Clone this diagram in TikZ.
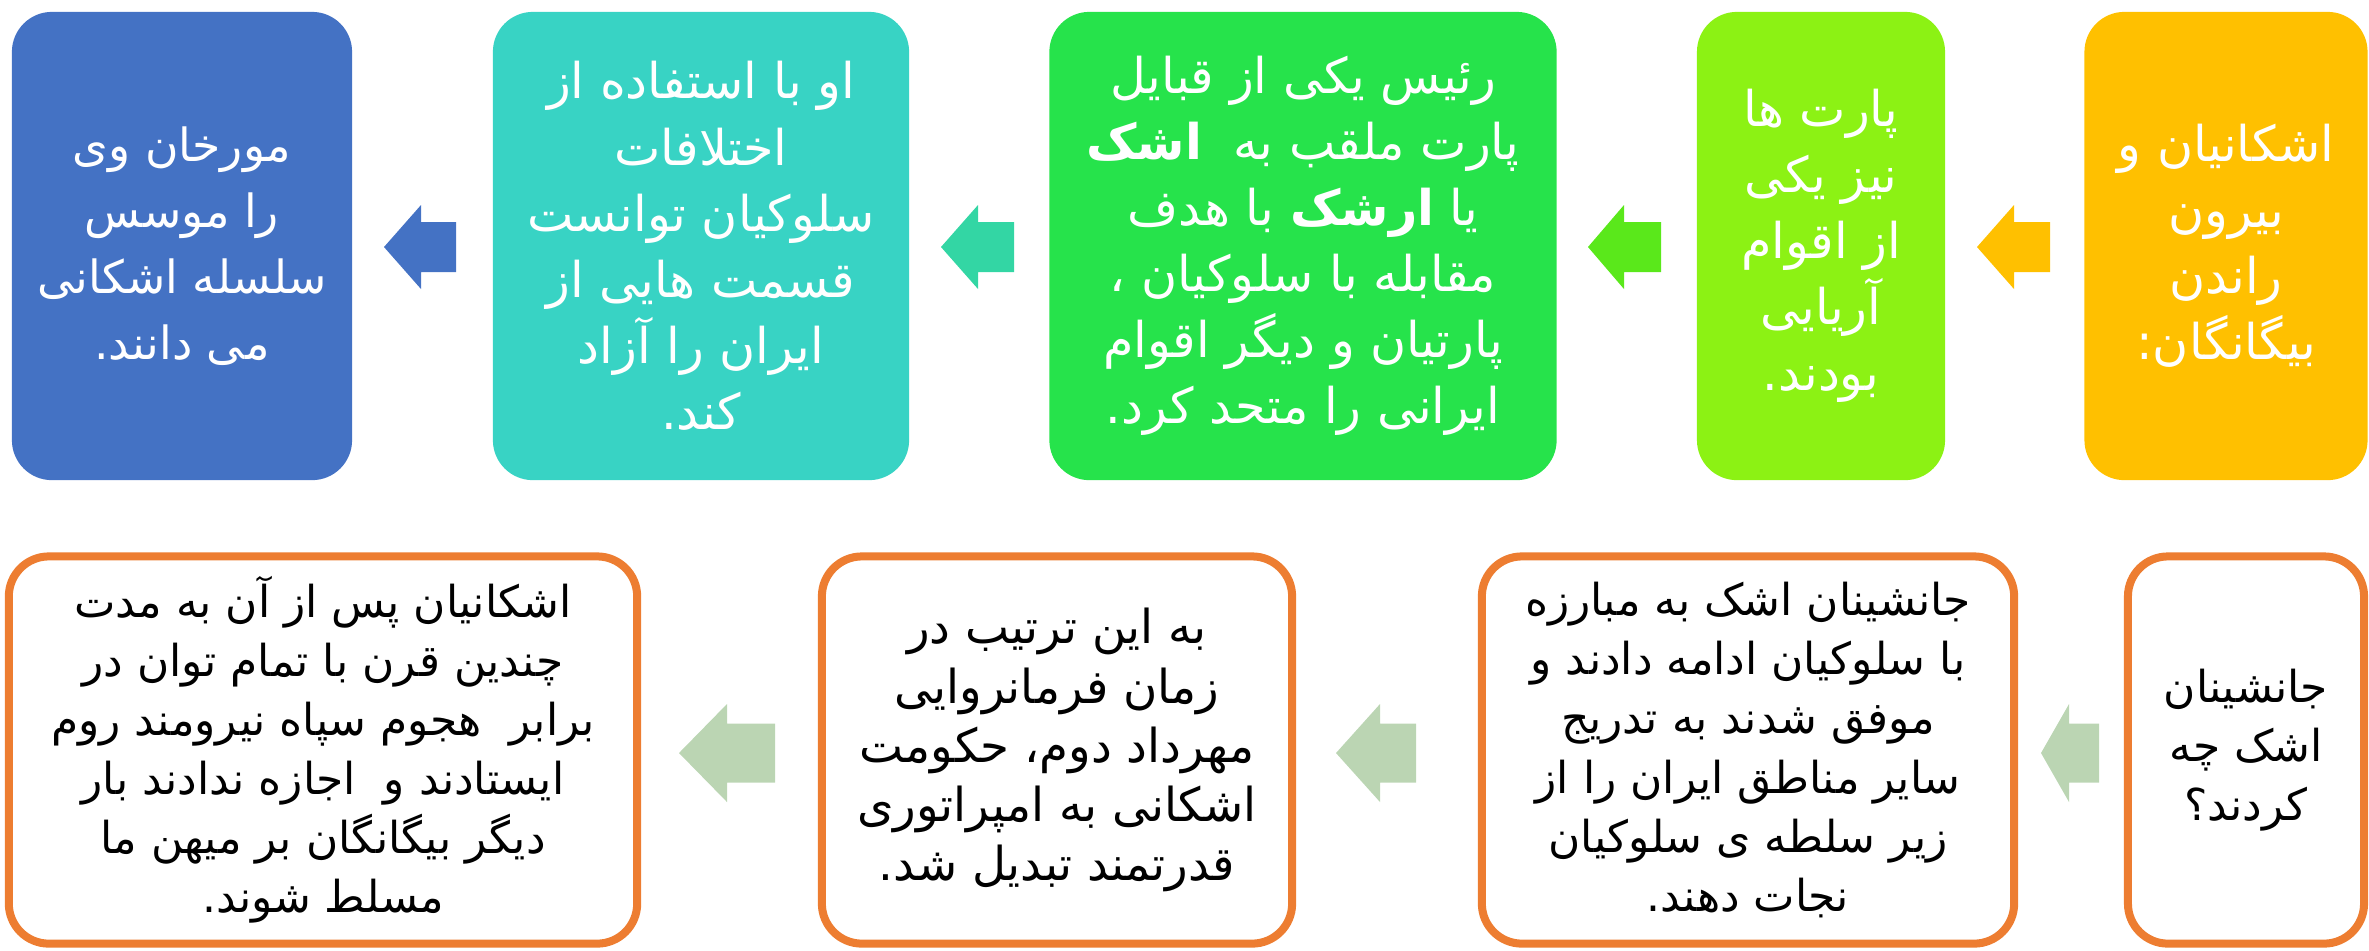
\documentclass[tikz,border=0pt]{standalone}
\usepackage{fontspec}
\newfontfamily\arabicfont[Script=Arabic]{DejaVu Sans}
\TeXXeTstate=1
\newcommand{\rl}[1]{\beginR#1\endR}
\definecolor{boxblue}{RGB}{68,114,196}
\definecolor{boxteal}{RGB}{56,211,196}
\definecolor{arrteal}{RGB}{51,214,164}
\definecolor{boxgreen}{RGB}{38,227,75}
\definecolor{arrgreen}{RGB}{90,232,27}
\definecolor{boxlime}{RGB}{140,242,20}
\definecolor{boxyellow}{RGB}{255,192,0}
\definecolor{arrsage}{RGB}{187,213,179}
\definecolor{lineorange}{RGB}{237,125,49}

\begin{document}
\begin{tikzpicture}[x=0.01cm,y=-0.01cm,
  topbox/.style={rounded corners=0.4cm, text=white, align=center, inner sep=0pt,
    minimum height=4.68cm, font=\arabicfont\fontsize{14}{18.8}\selectfont},
  lowbox/.style={draw=lineorange, line width=0.08cm, fill=white, rounded corners=0.4cm,
    align=center, inner sep=0pt, minimum height=3.87cm,
    font=\arabicfont\fontsize{12.5}{16.8}\selectfont}]
\useasboundingbox (0,0) rectangle (2369,950);

% top row
\node[topbox, fill=boxyellow, minimum width=2.83cm] (biganegan) at (2226,246)
  {\rl{اشکانیان و}\\ \rl{بیرون}\\ \rl{راندن}\\ \rl{بیگانگان:}};
\node[topbox, fill=boxlime, minimum width=2.48cm] (aqvam) at (1821,246)
  {\rl{پارت ها}\\ \rl{نیز یکی}\\ \rl{از اقوام}\\ \rl{آریایی}\\ \rl{بودند.}};
\node[topbox, fill=boxgreen, minimum width=5.07cm] (arshak) at (1303,246)
  {\rl{رئیس یکی از قبایل}\\ \rl{پارت ملقب به\ \ \textbf{اشک}}\\ \rl{یا \textbf{ارشک} با هدف}\\
   \rl{مقابله با سلوکیان ،}\\ \rl{پارتیان و دیگر اقوام}\\ \rl{ایرانی را متحد کرد.}};
\node[topbox, fill=boxteal, minimum width=4.16cm] (azad) at (701,246)
  {\rl{او با استفاده از}\\ \rl{اختلافات}\\ \rl{سلوکیان توانست}\\ \rl{قسمت هایی از}\\
   \rl{ایران را آزاد}\\ \rl{کند.}};
\node[topbox, fill=boxblue, minimum width=3.40cm, font=\arabicfont\fontsize{13}{18.8}\selectfont]
  (mowases) at (182,246)
  {\rl{مورخان وی}\\ \rl{را موسس}\\ \rl{سلسله اشکانی}\\ \rl{می دانند.}};

% bottom row
\node[lowbox, minimum width=2.36cm] (soal) at (2246,750)
  {\rl{جانشینان}\\ \rl{اشک چه}\\ \rl{کردند؟}};
\node[lowbox, minimum width=5.32cm] (janeshinan) at (1748,750)
  {\rl{جانشینان اشک به مبارزه}\\ \rl{با سلوکیان ادامه دادند و}\\ \rl{موفق شدند به تدریج}\\
   \rl{سایر مناطق ایران را از}\\ \rl{زیر سلطه ی سلوکیان}\\ \rl{نجات دهند.}};
\node[lowbox, minimum width=4.70cm, font=\arabicfont\fontsize{13.3}{16.8}\selectfont]
  (mehrdad) at (1057,750)
  {\rl{به این ترتیب در}\\ \rl{زمان فرمانروایی}\\ \rl{مهرداد دوم، حکومت}\\
   \rl{اشکانی به امپراتوری}\\ \rl{قدرتمند تبدیل شد.}};
\node[lowbox, minimum width=6.28cm] (rom) at (323,750)
  {\rl{اشکانیان پس از آن به مدت}\\ \rl{چندین قرن با تمام توان در}\\
   \rl{برابر\ \ هجوم سپاه نیرومند روم}\\ \rl{ایستادند و\ \ اجازه ندادند بار}\\
   \rl{دیگر بیگانگان بر میهن ما}\\ \rl{مسلط شوند.}};

% block arrows: tip/back/tail/y/head/shaft/colour
\foreach \tip/\back/\tail/\yc/\hh/\sh/\col in {
    1977/2014/2050/247/42/25/boxyellow, 1588/1624/1661/247/42/25/arrgreen,
    941/978/1014/247/42/25/arrteal, 384/421/456/247/42/25/boxblue,
    2041/2069/2099/753/49/29.5/arrsage, 1336/1380/1416/753/49/29.5/arrsage,
    679/727/775/753/49/29.5/arrsage}
  \fill[\col] (\tip,\yc) -- (\back,\yc-\hh) -- (\back,\yc-\sh) -- (\tail,\yc-\sh)
    -- (\tail,\yc+\sh) -- (\back,\yc+\sh) -- (\back,\yc+\hh) -- cycle;
\end{tikzpicture}
\end{document}
